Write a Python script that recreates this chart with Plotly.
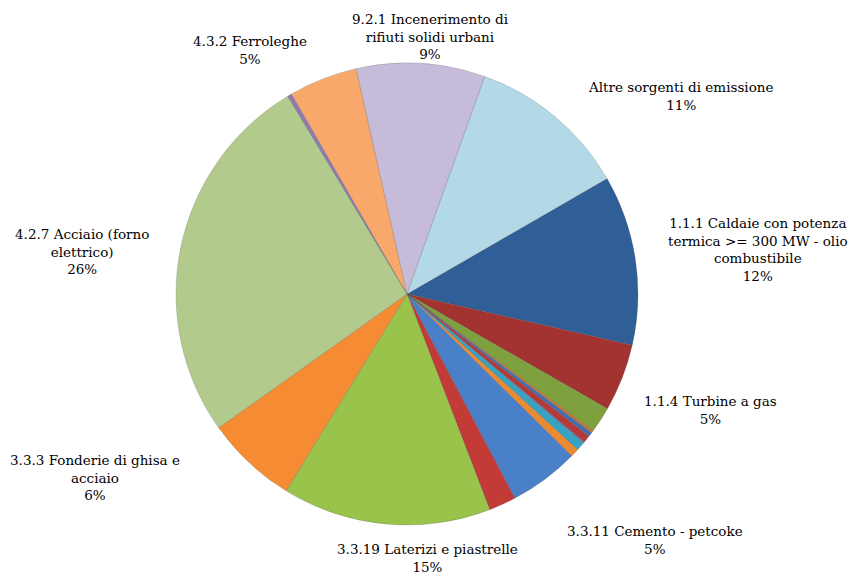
import plotly.graph_objects as go

# ---- data (clockwise order, starting with 1.1.1) ----
slice_names = [
    "1.1.1 Caldaie con potenza termica >= 300 MW - olio combustibile",
    "1.1.4 Turbine a gas",
    "s03", "s04", "s05", "s06", "s07", "s08", "s09",
    "3.3.11 Cemento - petcoke",
    "s11",
    "3.3.19 Laterizi e piastrelle",
    "3.3.3 Fonderie di ghisa e acciaio",
    "4.2.7 Acciaio (forno elettrico)",
    "s15",
    "4.3.2 Ferroleghe",
    "9.2.1 Incenerimento di rifiuti solidi urbani",
    "Altre sorgenti di emissione",
]
slice_values = [11.9, 4.7, 1.8, 0.2, 0.3, 0.5, 0.1, 0.6, 0.6, 4.9, 1.9,
                14.6, 6.4, 26.2, 0.3, 4.8, 9.0, 11.2]

# labelled slices: wrapped label text
label_text = {
    "1.1.1 Caldaie con potenza termica >= 300 MW - olio combustibile":
        "1.1.1 Caldaie con potenza<br>termica >= 300 MW - olio<br>combustibile",
    "1.1.4 Turbine a gas": "1.1.4 Turbine a gas",
    "3.3.11 Cemento - petcoke": "3.3.11 Cemento - petcoke",
    "3.3.19 Laterizi e piastrelle": "3.3.19 Laterizi e piastrelle",
    "3.3.3 Fonderie di ghisa e acciaio": "3.3.3 Fonderie di ghisa e<br>acciaio",
    "4.2.7 Acciaio (forno elettrico)": "4.2.7 Acciaio (forno<br>elettrico)",
    "4.3.2 Ferroleghe": "4.3.2 Ferroleghe",
    "9.2.1 Incenerimento di rifiuti solidi urbani": "9.2.1 Incenerimento di<br>rifiuti solidi urbani",
    "Altre sorgenti di emissione": "Altre sorgenti di emissione",
}

# ---- styling ----
colors = [
    "#2F5F96", "#A23330", "#7FA03E", "#C07838", "#3F6FB2", "#B33A37",
    "#7B64A0", "#36A3C2", "#EC8A32", "#4A80C8", "#C23B36", "#9AC34C",
    "#F58C33", "#B2CB8C", "#8E7BB0", "#F9A86C", "#C6BBD8", "#B2D9E5",
]

# label centres in pixels (x from left, y from top)
label_pos = {
    "1.1.1 Caldaie con potenza termica >= 300 MW - olio combustibile": (758, 250),
    "1.1.4 Turbine a gas": (710, 410),
    "3.3.11 Cemento - petcoke": (655, 540),
    "3.3.19 Laterizi e piastrelle": (427, 558),
    "3.3.3 Fonderie di ghisa e acciaio": (95, 477),
    "4.2.7 Acciaio (forno elettrico)": (82, 251),
    "4.3.2 Ferroleghe": (250, 50),
    "9.2.1 Incenerimento di rifiuti solidi urbani": (430, 36),
    "Altre sorgenti di emissione": (680, 96),
}

W, H = 863, 580
cx, cy, R = 407, 294, 231
SERIF = "DejaVu Serif"

fig = go.Figure(go.Pie(
    labels=slice_names,
    values=slice_values,
    sort=False,
    direction="clockwise",
    rotation=60,
    textinfo="none",
    hoverinfo="label+percent",
    marker=dict(colors=colors, line=dict(color="rgba(70,70,70,0.35)", width=0.6)),
    domain=dict(x=[(cx - R) / W, (cx + R) / W],
                y=[(H - cy - R) / H, (H - cy + R) / H]),
    showlegend=False,
))

total = sum(slice_values)
annotations = []
for name, val in zip(slice_names, slice_values):
    if name not in label_text:
        continue
    px, py = label_pos[name]
    pct = round(val / total * 100)
    annotations.append(dict(
        x=px / W, y=1 - py / H, xref="paper", yref="paper",
        text=f"{label_text[name]}<br>{pct}%",
        showarrow=False, xanchor="center", yanchor="middle", align="center",
        font=dict(family=SERIF, size=13.5, color="#000000"),
    ))

fig.update_layout(
    width=W, height=H,
    margin=dict(l=0, r=0, t=0, b=0),
    paper_bgcolor="white", plot_bgcolor="white",
    font=dict(family=SERIF),
    annotations=annotations,
)

fig.write_html("out.html")
